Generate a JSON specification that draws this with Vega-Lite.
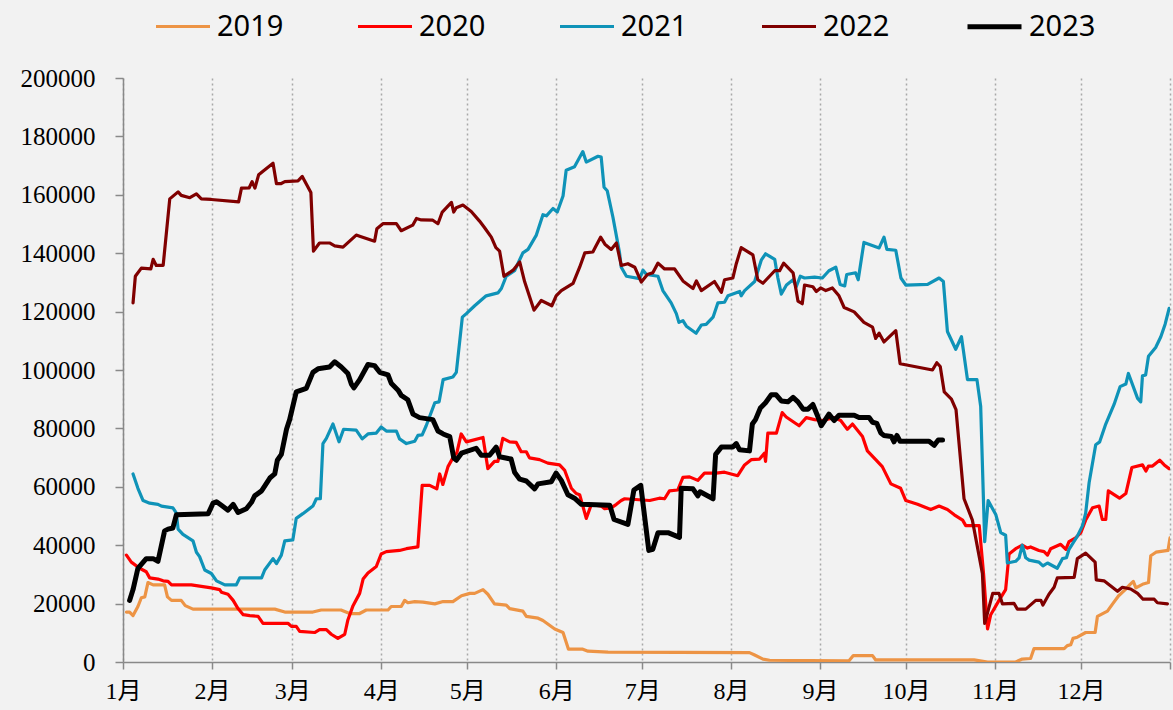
{
"$schema":"https://vega.github.io/schema/vega-lite/v6.json",
"width":1047,"height":584,
"autosize":{"type":"none"},
"padding":{"left":123,"top":78,"right":3,"bottom":48},
"background":"#f2f2f2",
"config":{"view":{"stroke":null},
"legend":{"orient":"none","legendX":31,"legendY":-81,"direction":"horizontal","symbolType":"stroke","symbolSize":2916,"labelFont":"Noto Sans","labelFontSize":29,"labelColor":"#000000","labelOffset":5,"columnPadding":67,"padding":0,"title":null,"symbolOpacity":1}},
"datasets":{"d":[
{"year":"2019","day":1.2,"value":17100},{"year":"2019","day":2.3,"value":17100},{"year":"2019","day":3.5,"value":15900},{"year":"2019","day":5.2,"value":19000},{"year":"2019","day":6.4,"value":22000},{"year":"2019","day":7.6,"value":22300},{"year":"2019","day":8.7,"value":27200},{"year":"2019","day":10.5,"value":26400},{"year":"2019","day":14.5,"value":26400},{"year":"2019","day":15.5,"value":22300},{"year":"2019","day":16.9,"value":21100},{"year":"2019","day":20.3,"value":21100},{"year":"2019","day":21.7,"value":19300},{"year":"2019","day":24.4,"value":18100},{"year":"2019","day":32,"value":18100},{"year":"2019","day":52.9,"value":18100},{"year":"2019","day":56.4,"value":17100},{"year":"2019","day":66.2,"value":17100},{"year":"2019","day":69.1,"value":17800},{"year":"2019","day":76,"value":17800},{"year":"2019","day":79,"value":16600},{"year":"2019","day":82.5,"value":16600},{"year":"2019","day":84.8,"value":17800},{"year":"2019","day":92.4,"value":17800},{"year":"2019","day":93.5,"value":19000},{"year":"2019","day":97,"value":19000},{"year":"2019","day":98.2,"value":21100},{"year":"2019","day":99.3,"value":20300},{"year":"2019","day":101.7,"value":20700},{"year":"2019","day":104.6,"value":20500},{"year":"2019","day":108.7,"value":19900},{"year":"2019","day":111.6,"value":20700},{"year":"2019","day":115,"value":20700},{"year":"2019","day":118,"value":22700},{"year":"2019","day":120.9,"value":23500},{"year":"2019","day":122.6,"value":23500},{"year":"2019","day":125.5,"value":24800},{"year":"2019","day":127.2,"value":23200},{"year":"2019","day":129.5,"value":19900},{"year":"2019","day":133.6,"value":19500},{"year":"2019","day":134.8,"value":18300},{"year":"2019","day":139.4,"value":17400},{"year":"2019","day":140.6,"value":15600},{"year":"2019","day":144.7,"value":15000},{"year":"2019","day":146.4,"value":14200},{"year":"2019","day":148.7,"value":12600},{"year":"2019","day":150.5,"value":11300},{"year":"2019","day":153.4,"value":10100},{"year":"2019","day":155.3,"value":4400},{"year":"2019","day":160.3,"value":4400},{"year":"2019","day":162.1,"value":3700},{"year":"2019","day":169.1,"value":3400},{"year":"2019","day":218.4,"value":3200},{"year":"2019","day":220.2,"value":2400},{"year":"2019","day":223.1,"value":1000},{"year":"2019","day":225.4,"value":600},{"year":"2019","day":253.1,"value":400},{"year":"2019","day":254.6,"value":2200},{"year":"2019","day":261.3,"value":2200},{"year":"2019","day":262.4,"value":700},{"year":"2019","day":296.7,"value":700},{"year":"2019","day":301.4,"value":0},{"year":"2019","day":311.2,"value":0},{"year":"2019","day":313.5,"value":1000},{"year":"2019","day":316.4,"value":1200},{"year":"2019","day":317.6,"value":4600},{"year":"2019","day":328.1,"value":4600},{"year":"2019","day":329.2,"value":5600},{"year":"2019","day":330.4,"value":5900},{"year":"2019","day":331.2,"value":8100},{"year":"2019","day":332.7,"value":8500},{"year":"2019","day":335.6,"value":10100},{"year":"2019","day":338.9,"value":10100},{"year":"2019","day":339.7,"value":15600},{"year":"2019","day":343.2,"value":17400},{"year":"2019","day":345,"value":19900},{"year":"2019","day":347.1,"value":22700},{"year":"2019","day":349.4,"value":24800},{"year":"2019","day":351.1,"value":26600},{"year":"2019","day":352.2,"value":27600},{"year":"2019","day":353.1,"value":25400},{"year":"2019","day":355.4,"value":26600},{"year":"2019","day":357.5,"value":27200},{"year":"2019","day":358.3,"value":36400},{"year":"2019","day":360.1,"value":37600},{"year":"2019","day":364.3,"value":38200},{"year":"2019","day":365,"value":42500},
{"year":"2020","day":1.2,"value":36600},{"year":"2020","day":2.9,"value":34200},{"year":"2020","day":5.8,"value":32100},{"year":"2020","day":8.1,"value":30900},{"year":"2020","day":9.3,"value":28800},{"year":"2020","day":12.2,"value":28400},{"year":"2020","day":14,"value":27800},{"year":"2020","day":15.7,"value":27600},{"year":"2020","day":16.9,"value":26400},{"year":"2020","day":23.8,"value":26400},{"year":"2020","day":30.8,"value":25400},{"year":"2020","day":33.7,"value":24800},{"year":"2020","day":34.3,"value":23900},{"year":"2020","day":36.6,"value":23200},{"year":"2020","day":38.4,"value":21100},{"year":"2020","day":40.1,"value":18300},{"year":"2020","day":41.9,"value":16200},{"year":"2020","day":44.2,"value":15900},{"year":"2020","day":47.1,"value":15600},{"year":"2020","day":48.8,"value":13200},{"year":"2020","day":57.6,"value":13200},{"year":"2020","day":58.7,"value":12200},{"year":"2020","day":60.4,"value":12200},{"year":"2020","day":61.6,"value":10500},{"year":"2020","day":66.8,"value":10100},{"year":"2020","day":68.5,"value":11100},{"year":"2020","day":70.9,"value":11100},{"year":"2020","day":72.6,"value":9500},{"year":"2020","day":74.9,"value":8100},{"year":"2020","day":77.3,"value":9500},{"year":"2020","day":78.4,"value":14400},{"year":"2020","day":80.2,"value":19300},{"year":"2020","day":82.5,"value":23500},{"year":"2020","day":83.7,"value":28400},{"year":"2020","day":85.4,"value":30500},{"year":"2020","day":88.3,"value":32700},{"year":"2020","day":90,"value":37000},{"year":"2020","day":91.8,"value":37800},{"year":"2020","day":96.4,"value":38200},{"year":"2020","day":98.8,"value":38800},{"year":"2020","day":102.8,"value":39400},{"year":"2020","day":104.3,"value":60500},{"year":"2020","day":106.9,"value":60500},{"year":"2020","day":109.4,"value":59300},{"year":"2020","day":110.4,"value":64400},{"year":"2020","day":111.5,"value":60800},{"year":"2020","day":113.3,"value":66900},{"year":"2020","day":115,"value":69900},{"year":"2020","day":116.4,"value":71700},{"year":"2020","day":117.9,"value":78100},{"year":"2020","day":119.7,"value":75400},{"year":"2020","day":125.5,"value":76900},{"year":"2020","day":127.2,"value":66200},{"year":"2020","day":129.5,"value":68700},{"year":"2020","day":130.7,"value":68700},{"year":"2020","day":132.4,"value":76600},{"year":"2020","day":134.8,"value":75400},{"year":"2020","day":137.1,"value":75200},{"year":"2020","day":138.8,"value":72000},{"year":"2020","day":140.6,"value":72000},{"year":"2020","day":141.7,"value":69900},{"year":"2020","day":145.2,"value":69300},{"year":"2020","day":148.1,"value":68100},{"year":"2020","day":152.2,"value":67500},{"year":"2020","day":154,"value":65600},{"year":"2020","day":156.3,"value":59500},{"year":"2020","day":158,"value":57700},{"year":"2020","day":159.2,"value":57300},{"year":"2020","day":161.5,"value":49200},{"year":"2020","day":163.3,"value":54000},{"year":"2020","day":166.7,"value":53400},{"year":"2020","day":167.9,"value":52500},{"year":"2020","day":170.2,"value":52800},{"year":"2020","day":172,"value":54000},{"year":"2020","day":173.7,"value":55300},{"year":"2020","day":174.9,"value":55900},{"year":"2020","day":183.6,"value":55300},{"year":"2020","day":187,"value":56100},{"year":"2020","day":188.8,"value":55900},{"year":"2020","day":190.5,"value":58600},{"year":"2020","day":193.4,"value":58900},{"year":"2020","day":195.2,"value":63200},{"year":"2020","day":197.5,"value":63400},{"year":"2020","day":200.4,"value":62200},{"year":"2020","day":202.7,"value":64700},{"year":"2020","day":206.8,"value":64700},{"year":"2020","day":209.7,"value":65000},{"year":"2020","day":214.3,"value":63800},{"year":"2020","day":216.7,"value":67500},{"year":"2020","day":219,"value":69300},{"year":"2020","day":221.9,"value":69500},{"year":"2020","day":223.6,"value":71500},{"year":"2020","day":224,"value":68700},{"year":"2020","day":224.8,"value":78400},{"year":"2020","day":227.8,"value":78400},{"year":"2020","day":229.8,"value":85400},{"year":"2020","day":231.2,"value":83900},{"year":"2020","day":235.7,"value":80900},{"year":"2020","day":238.2,"value":83700},{"year":"2020","day":241.1,"value":83000},{"year":"2020","day":243.8,"value":82700},{"year":"2020","day":247.9,"value":83700},{"year":"2020","day":250.2,"value":82700},{"year":"2020","day":252.5,"value":79700},{"year":"2020","day":254.3,"value":81500},{"year":"2020","day":257.8,"value":77200},{"year":"2020","day":259.5,"value":72300},{"year":"2020","day":262.4,"value":69300},{"year":"2020","day":264.7,"value":66900},{"year":"2020","day":267.7,"value":61000},{"year":"2020","day":271.1,"value":59500},{"year":"2020","day":272.9,"value":55300},{"year":"2020","day":277,"value":54000},{"year":"2020","day":281.6,"value":52200},{"year":"2020","day":284.5,"value":53400},{"year":"2020","day":287.4,"value":52200},{"year":"2020","day":289.8,"value":50400},{"year":"2020","day":292.7,"value":48600},{"year":"2020","day":293.8,"value":46700},{"year":"2020","day":298.5,"value":46700},{"year":"2020","day":300,"value":30300},{"year":"2020","day":301.4,"value":11300},{"year":"2020","day":302.5,"value":16200},{"year":"2020","day":305.4,"value":21100},{"year":"2020","day":307.7,"value":24800},{"year":"2020","day":308.9,"value":37000},{"year":"2020","day":311.2,"value":38800},{"year":"2020","day":313.5,"value":40000},{"year":"2020","day":315.3,"value":39000},{"year":"2020","day":316.4,"value":39400},{"year":"2020","day":319.3,"value":38200},{"year":"2020","day":321.1,"value":37800},{"year":"2020","day":322.3,"value":36600},{"year":"2020","day":323.4,"value":38800},{"year":"2020","day":326.9,"value":40300},{"year":"2020","day":328.7,"value":38600},{"year":"2020","day":329.8,"value":41200},{"year":"2020","day":332.1,"value":42500},{"year":"2020","day":333.9,"value":44300},{"year":"2020","day":335.6,"value":48600},{"year":"2020","day":338,"value":52800},{"year":"2020","day":340.3,"value":53400},{"year":"2020","day":341.4,"value":48800},{"year":"2020","day":342.6,"value":48800},{"year":"2020","day":343.5,"value":58600},{"year":"2020","day":345.5,"value":57300},{"year":"2020","day":347.4,"value":56100},{"year":"2020","day":349.6,"value":57700},{"year":"2020","day":351.7,"value":66600},{"year":"2020","day":355.4,"value":67500},{"year":"2020","day":356.6,"value":65400},{"year":"2020","day":357.5,"value":67100},{"year":"2020","day":358.9,"value":67100},{"year":"2020","day":361.4,"value":69100},{"year":"2020","day":363,"value":67500},{"year":"2020","day":364.7,"value":66200},
{"year":"2021","day":3.5,"value":64400},{"year":"2021","day":5.2,"value":59500},{"year":"2021","day":7,"value":55300},{"year":"2021","day":9.3,"value":54400},{"year":"2021","day":12.2,"value":54000},{"year":"2021","day":13.4,"value":53400},{"year":"2021","day":17.4,"value":52800},{"year":"2021","day":18.6,"value":51000},{"year":"2021","day":19.2,"value":45500},{"year":"2021","day":20.9,"value":43700},{"year":"2021","day":24.4,"value":41500},{"year":"2021","day":25.6,"value":37600},{"year":"2021","day":26.7,"value":36100},{"year":"2021","day":28.5,"value":31500},{"year":"2021","day":30.8,"value":30300},{"year":"2021","day":32.6,"value":27800},{"year":"2021","day":35.5,"value":26400},{"year":"2021","day":39.5,"value":26400},{"year":"2021","day":40.7,"value":28800},{"year":"2021","day":48.3,"value":28800},{"year":"2021","day":49.4,"value":31500},{"year":"2021","day":52.3,"value":35400},{"year":"2021","day":53.5,"value":33700},{"year":"2021","day":55.2,"value":36600},{"year":"2021","day":56.4,"value":41500},{"year":"2021","day":59.2,"value":41800},{"year":"2021","day":60.4,"value":49200},{"year":"2021","day":62.7,"value":50800},{"year":"2021","day":66.2,"value":53400},{"year":"2021","day":67.4,"value":55900},{"year":"2021","day":68.8,"value":55900},{"year":"2021","day":69.7,"value":74800},{"year":"2021","day":70.9,"value":76600},{"year":"2021","day":73.2,"value":81500},{"year":"2021","day":75.3,"value":75400},{"year":"2021","day":76.9,"value":79700},{"year":"2021","day":81.3,"value":79400},{"year":"2021","day":83.4,"value":76400},{"year":"2021","day":85.4,"value":78100},{"year":"2021","day":88.3,"value":78400},{"year":"2021","day":90,"value":80500},{"year":"2021","day":91.8,"value":79100},{"year":"2021","day":95.3,"value":79100},{"year":"2021","day":96.4,"value":76400},{"year":"2021","day":98.8,"value":74800},{"year":"2021","day":101.7,"value":75600},{"year":"2021","day":102.8,"value":77600},{"year":"2021","day":104.3,"value":77800},{"year":"2021","day":105.7,"value":80900},{"year":"2021","day":108.7,"value":88800},{"year":"2021","day":110.2,"value":89100},{"year":"2021","day":111.6,"value":96700},{"year":"2021","day":115,"value":97600},{"year":"2021","day":116.2,"value":99200},{"year":"2021","day":118.3,"value":118100},{"year":"2021","day":119.7,"value":119300},{"year":"2021","day":122.6,"value":122000},{"year":"2021","day":126.6,"value":125400},{"year":"2021","day":130.7,"value":126400},{"year":"2021","day":131.9,"value":127900},{"year":"2021","day":133.6,"value":132100},{"year":"2021","day":136.5,"value":134000},{"year":"2021","day":139.4,"value":140100},{"year":"2021","day":141.2,"value":141300},{"year":"2021","day":144.1,"value":146200},{"year":"2021","day":146.4,"value":153200},{"year":"2021","day":147.6,"value":152800},{"year":"2021","day":149.9,"value":155300},{"year":"2021","day":151.4,"value":154100},{"year":"2021","day":153.4,"value":159600},{"year":"2021","day":154.5,"value":168400},{"year":"2021","day":157.4,"value":169600},{"year":"2021","day":160.3,"value":174800},{"year":"2021","day":161.5,"value":171200},{"year":"2021","day":165.6,"value":173200},{"year":"2021","day":166.7,"value":172900},{"year":"2021","day":167.7,"value":162600},{"year":"2021","day":168.8,"value":161400},{"year":"2021","day":170.8,"value":152300},{"year":"2021","day":173.1,"value":140100},{"year":"2021","day":173.7,"value":135200},{"year":"2021","day":175.5,"value":132100},{"year":"2021","day":180.1,"value":131300},{"year":"2021","day":181.3,"value":134200},{"year":"2021","day":182.5,"value":132700},{"year":"2021","day":186.5,"value":132100},{"year":"2021","day":188.2,"value":127200},{"year":"2021","day":191.1,"value":123000},{"year":"2021","day":192.9,"value":119300},{"year":"2021","day":193.8,"value":116300},{"year":"2021","day":195.2,"value":116900},{"year":"2021","day":196.4,"value":115000},{"year":"2021","day":199.8,"value":112600},{"year":"2021","day":201.6,"value":115400},{"year":"2021","day":203.3,"value":115600},{"year":"2021","day":205.7,"value":118100},{"year":"2021","day":207.4,"value":123000},{"year":"2021","day":209.7,"value":123200},{"year":"2021","day":210.9,"value":125400},{"year":"2021","day":215,"value":126900},{"year":"2021","day":215.5,"value":125400},{"year":"2021","day":216.7,"value":127200},{"year":"2021","day":220.2,"value":130300},{"year":"2021","day":222.5,"value":137600},{"year":"2021","day":224,"value":139800},{"year":"2021","day":227.2,"value":137900},{"year":"2021","day":228.3,"value":131500},{"year":"2021","day":229.5,"value":126000},{"year":"2021","day":231.3,"value":129100},{"year":"2021","day":233.6,"value":130900},{"year":"2021","day":234.7,"value":128500},{"year":"2021","day":236.1,"value":132100},{"year":"2021","day":237.6,"value":131500},{"year":"2021","day":241.1,"value":131800},{"year":"2021","day":243.8,"value":131500},{"year":"2021","day":246.1,"value":134000},{"year":"2021","day":248.5,"value":135200},{"year":"2021","day":250,"value":129300},{"year":"2021","day":251.6,"value":128800},{"year":"2021","day":252.3,"value":132700},{"year":"2021","day":255.4,"value":133300},{"year":"2021","day":256.3,"value":130900},{"year":"2021","day":258.3,"value":143700},{"year":"2021","day":263.6,"value":141800},{"year":"2021","day":265.3,"value":145500},{"year":"2021","day":266.3,"value":141300},{"year":"2021","day":269.4,"value":141000},{"year":"2021","day":271.2,"value":131500},{"year":"2021","day":272.9,"value":129100},{"year":"2021","day":280.5,"value":129300},{"year":"2021","day":284.5,"value":131500},{"year":"2021","day":286,"value":130300},{"year":"2021","day":287.4,"value":113200},{"year":"2021","day":290.3,"value":107100},{"year":"2021","day":292.3,"value":111400},{"year":"2021","day":294.4,"value":96700},{"year":"2021","day":297.7,"value":96700},{"year":"2021","day":299,"value":87600},{"year":"2021","day":300.4,"value":41200},{"year":"2021","day":301.6,"value":55300},{"year":"2021","day":304.3,"value":50400},{"year":"2021","day":306,"value":44300},{"year":"2021","day":307.7,"value":43400},{"year":"2021","day":308.3,"value":33900},{"year":"2021","day":311.2,"value":34500},{"year":"2021","day":312.4,"value":35700},{"year":"2021","day":313.5,"value":40000},{"year":"2021","day":314.7,"value":35700},{"year":"2021","day":315.9,"value":34900},{"year":"2021","day":319.3,"value":34200},{"year":"2021","day":320.7,"value":32900},{"year":"2021","day":322.3,"value":33900},{"year":"2021","day":325.7,"value":32100},{"year":"2021","day":327.5,"value":35400},{"year":"2021","day":328.9,"value":35700},{"year":"2021","day":329.8,"value":38600},{"year":"2021","day":332.7,"value":43100},{"year":"2021","day":334.5,"value":46700},{"year":"2021","day":335.6,"value":51000},{"year":"2021","day":336.8,"value":61400},{"year":"2021","day":339.1,"value":74400},{"year":"2021","day":340.5,"value":75400},{"year":"2021","day":342.6,"value":81500},{"year":"2021","day":345.5,"value":88200},{"year":"2021","day":347.6,"value":94300},{"year":"2021","day":349.6,"value":95200},{"year":"2021","day":350.5,"value":98800},{"year":"2021","day":353.7,"value":90300},{"year":"2021","day":354.8,"value":89100},{"year":"2021","day":355.4,"value":98000},{"year":"2021","day":356.5,"value":98300},{"year":"2021","day":357.5,"value":104700},{"year":"2021","day":360,"value":107700},{"year":"2021","day":361.8,"value":111400},{"year":"2021","day":363.3,"value":115700},{"year":"2021","day":364.7,"value":121100},
{"year":"2022","day":3.5,"value":123000},{"year":"2022","day":4.3,"value":132100},{"year":"2022","day":6.4,"value":134900},{"year":"2022","day":9.7,"value":134600},{"year":"2022","day":10.5,"value":137900},{"year":"2022","day":11.6,"value":135800},{"year":"2022","day":14,"value":135800},{"year":"2022","day":16.3,"value":158600},{"year":"2022","day":19.2,"value":161000},{"year":"2022","day":20.3,"value":159800},{"year":"2022","day":23.3,"value":159000},{"year":"2022","day":25.6,"value":160300},{"year":"2022","day":27.3,"value":158600},{"year":"2022","day":30.8,"value":158400},{"year":"2022","day":40.3,"value":157600},{"year":"2022","day":41.3,"value":162300},{"year":"2022","day":44,"value":162400},{"year":"2022","day":45,"value":164500},{"year":"2022","day":46,"value":162300},{"year":"2022","day":47.3,"value":166900},{"year":"2022","day":48.8,"value":168100},{"year":"2022","day":52.3,"value":170800},{"year":"2022","day":53.5,"value":163800},{"year":"2022","day":55,"value":163800},{"year":"2022","day":56.4,"value":164500},{"year":"2022","day":61,"value":164800},{"year":"2022","day":62.5,"value":166300},{"year":"2022","day":65.5,"value":160800},{"year":"2022","day":66.4,"value":140700},{"year":"2022","day":68.5,"value":143500},{"year":"2022","day":72,"value":143500},{"year":"2022","day":73.8,"value":142500},{"year":"2022","day":76.7,"value":142100},{"year":"2022","day":81.3,"value":146200},{"year":"2022","day":82.5,"value":145800},{"year":"2022","day":87.7,"value":144100},{"year":"2022","day":88.5,"value":148400},{"year":"2022","day":90.6,"value":150100},{"year":"2022","day":95.3,"value":150100},{"year":"2022","day":97,"value":147700},{"year":"2022","day":101,"value":149600},{"year":"2022","day":102.3,"value":151900},{"year":"2022","day":104,"value":151400},{"year":"2022","day":108,"value":151300},{"year":"2022","day":109.8,"value":150100},{"year":"2022","day":111.3,"value":154100},{"year":"2022","day":114.5,"value":157400},{"year":"2022","day":115.3,"value":154100},{"year":"2022","day":116.2,"value":155600},{"year":"2022","day":118.5,"value":156500},{"year":"2022","day":121.4,"value":154300},{"year":"2022","day":124.3,"value":151000},{"year":"2022","day":126,"value":148800},{"year":"2022","day":128.4,"value":145500},{"year":"2022","day":130,"value":141900},{"year":"2022","day":131.3,"value":140700},{"year":"2022","day":132.8,"value":132100},{"year":"2022","day":136,"value":134200},{"year":"2022","day":138.3,"value":137000},{"year":"2022","day":140,"value":130300},{"year":"2022","day":143.3,"value":120500},{"year":"2022","day":145.8,"value":123800},{"year":"2022","day":149.5,"value":122000},{"year":"2022","day":151,"value":125400},{"year":"2022","day":152.8,"value":127200},{"year":"2022","day":156.9,"value":129700},{"year":"2022","day":159.2,"value":135200},{"year":"2022","day":161,"value":140100},{"year":"2022","day":163.8,"value":140400},{"year":"2022","day":164.7,"value":142100},{"year":"2022","day":166.5,"value":145500},{"year":"2022","day":168,"value":143100},{"year":"2022","day":170.2,"value":141300},{"year":"2022","day":172,"value":143500},{"year":"2022","day":173.7,"value":135800},{"year":"2022","day":176,"value":136400},{"year":"2022","day":178.4,"value":135200},{"year":"2022","day":180.7,"value":130100},{"year":"2022","day":182.8,"value":132700},{"year":"2022","day":184.7,"value":133300},{"year":"2022","day":186.5,"value":136600},{"year":"2022","day":188.8,"value":134600},{"year":"2022","day":192.3,"value":134600},{"year":"2022","day":195.2,"value":130500},{"year":"2022","day":198.7,"value":127900},{"year":"2022","day":199.9,"value":130500},{"year":"2022","day":201.6,"value":127200},{"year":"2022","day":206.2,"value":130300},{"year":"2022","day":208.6,"value":126600},{"year":"2022","day":209.7,"value":130900},{"year":"2022","day":212.6,"value":131500},{"year":"2022","day":213.8,"value":136400},{"year":"2022","day":215.5,"value":141900},{"year":"2022","day":219.6,"value":139400},{"year":"2022","day":221.3,"value":130900},{"year":"2022","day":223.1,"value":129700},{"year":"2022","day":227.2,"value":134000},{"year":"2022","day":228.9,"value":134000},{"year":"2022","day":230.3,"value":136600},{"year":"2022","day":233.6,"value":133300},{"year":"2022","day":235.3,"value":123600},{"year":"2022","day":236.8,"value":122700},{"year":"2022","day":237.6,"value":129100},{"year":"2022","day":240.5,"value":128500},{"year":"2022","day":241.7,"value":126900},{"year":"2022","day":243.2,"value":128100},{"year":"2022","day":245,"value":127200},{"year":"2022","day":247.3,"value":128100},{"year":"2022","day":249.6,"value":125400},{"year":"2022","day":251.4,"value":121400},{"year":"2022","day":254.9,"value":119900},{"year":"2022","day":258.3,"value":116300},{"year":"2022","day":261.3,"value":114700},{"year":"2022","day":262.4,"value":110800},{"year":"2022","day":263.6,"value":112600},{"year":"2022","day":265.3,"value":109600},{"year":"2022","day":269.4,"value":113500},{"year":"2022","day":270.9,"value":102200},{"year":"2022","day":272.3,"value":101900},{"year":"2022","day":282.2,"value":100000},{"year":"2022","day":283.7,"value":102500},{"year":"2022","day":284.9,"value":101200},{"year":"2022","day":286.3,"value":92500},{"year":"2022","day":288.8,"value":90000},{"year":"2022","day":290.4,"value":86400},{"year":"2022","day":293.2,"value":55900},{"year":"2022","day":296.1,"value":48600},{"year":"2022","day":299.6,"value":30300},{"year":"2022","day":300.4,"value":13200},{"year":"2022","day":303.2,"value":23500},{"year":"2022","day":305.4,"value":23500},{"year":"2022","day":306.6,"value":19900},{"year":"2022","day":310.6,"value":20100},{"year":"2022","day":311.8,"value":18100},{"year":"2022","day":314.7,"value":18100},{"year":"2022","day":318.2,"value":21100},{"year":"2022","day":320,"value":21100},{"year":"2022","day":320.7,"value":19500},{"year":"2022","day":322.8,"value":23200},{"year":"2022","day":324.6,"value":25600},{"year":"2022","day":325.7,"value":28800},{"year":"2022","day":331.6,"value":29000},{"year":"2022","day":332.7,"value":35400},{"year":"2022","day":335.6,"value":37300},{"year":"2022","day":338.9,"value":34200},{"year":"2022","day":339.3,"value":28100},{"year":"2022","day":342,"value":27800},{"year":"2022","day":346.7,"value":24200},{"year":"2022","day":348.4,"value":25600},{"year":"2022","day":351.3,"value":25000},{"year":"2022","day":353.7,"value":23500},{"year":"2022","day":355.6,"value":21500},{"year":"2022","day":359.5,"value":21500},{"year":"2022","day":360.6,"value":20300},{"year":"2022","day":364.1,"value":19900},
{"year":"2023","day":2.3,"value":21100},{"year":"2023","day":3.5,"value":24800},{"year":"2023","day":5.2,"value":32100},{"year":"2023","day":8.1,"value":35400},{"year":"2023","day":10.5,"value":35400},{"year":"2023","day":12.2,"value":34500},{"year":"2023","day":14.5,"value":44900},{"year":"2023","day":15.7,"value":45500},{"year":"2023","day":17.4,"value":45900},{"year":"2023","day":18.6,"value":50400},{"year":"2023","day":29.7,"value":50800},{"year":"2023","day":31.4,"value":54400},{"year":"2023","day":32.6,"value":54900},{"year":"2023","day":34.3,"value":53700},{"year":"2023","day":36.6,"value":52000},{"year":"2023","day":38.4,"value":54000},{"year":"2023","day":40.1,"value":51200},{"year":"2023","day":43,"value":52500},{"year":"2023","day":44.8,"value":54700},{"year":"2023","day":45.9,"value":56900},{"year":"2023","day":48.3,"value":58600},{"year":"2023","day":51.2,"value":63000},{"year":"2023","day":52.9,"value":64400},{"year":"2023","day":53.8,"value":69100},{"year":"2023","day":55.2,"value":71100},{"year":"2023","day":57,"value":79700},{"year":"2023","day":58.1,"value":83000},{"year":"2023","day":60.4,"value":92500},{"year":"2023","day":63.9,"value":93700},{"year":"2023","day":66.2,"value":99200},{"year":"2023","day":68,"value":100400},{"year":"2023","day":72,"value":101000},{"year":"2023","day":73.8,"value":102800},{"year":"2023","day":76.1,"value":101000},{"year":"2023","day":78.4,"value":98800},{"year":"2023","day":79.6,"value":95200},{"year":"2023","day":80.5,"value":93900},{"year":"2023","day":82.5,"value":96700},{"year":"2023","day":85.4,"value":101900},{"year":"2023","day":87.7,"value":101500},{"year":"2023","day":89.5,"value":99200},{"year":"2023","day":92.4,"value":98300},{"year":"2023","day":93.5,"value":95500},{"year":"2023","day":95.9,"value":93100},{"year":"2023","day":97,"value":91300},{"year":"2023","day":99.3,"value":89800},{"year":"2023","day":101.1,"value":84900},{"year":"2023","day":103.4,"value":83700},{"year":"2023","day":108,"value":83000},{"year":"2023","day":109.8,"value":79100},{"year":"2023","day":111.6,"value":78100},{"year":"2023","day":113.9,"value":77200},{"year":"2023","day":115.3,"value":69900},{"year":"2023","day":116.2,"value":69100},{"year":"2023","day":118,"value":71500},{"year":"2023","day":123.1,"value":73200},{"year":"2023","day":124.9,"value":70800},{"year":"2023","day":127.8,"value":70800},{"year":"2023","day":130.1,"value":73600},{"year":"2023","day":131.3,"value":70300},{"year":"2023","day":135.3,"value":69500},{"year":"2023","day":136.5,"value":65000},{"year":"2023","day":138.3,"value":62600},{"year":"2023","day":140.6,"value":62000},{"year":"2023","day":143.5,"value":59300},{"year":"2023","day":144.7,"value":61000},{"year":"2023","day":149.3,"value":61700},{"year":"2023","day":151,"value":64700},{"year":"2023","day":152.8,"value":62200},{"year":"2023","day":155.1,"value":57300},{"year":"2023","day":157.4,"value":56100},{"year":"2023","day":159.8,"value":54000},{"year":"2023","day":169.7,"value":53700},{"year":"2023","day":171.2,"value":48800},{"year":"2023","day":176,"value":47100},{"year":"2023","day":178.1,"value":58900},{"year":"2023","day":180.5,"value":60500},{"year":"2023","day":183.3,"value":38200},{"year":"2023","day":184.7,"value":38600},{"year":"2023","day":186.5,"value":44300},{"year":"2023","day":190,"value":44300},{"year":"2023","day":194,"value":42700},{"year":"2023","day":194.6,"value":59500},{"year":"2023","day":198.7,"value":59300},{"year":"2023","day":200.4,"value":56900},{"year":"2023","day":201.2,"value":58300},{"year":"2023","day":205.7,"value":55900},{"year":"2023","day":206.6,"value":71100},{"year":"2023","day":208.6,"value":73600},{"year":"2023","day":212.6,"value":73600},{"year":"2023","day":213.8,"value":74800},{"year":"2023","day":214.9,"value":72700},{"year":"2023","day":218.4,"value":72300},{"year":"2023","day":219.4,"value":81500},{"year":"2023","day":220.5,"value":83000},{"year":"2023","day":222.2,"value":87000},{"year":"2023","day":224,"value":88800},{"year":"2023","day":226,"value":91500},{"year":"2023","day":227.7,"value":91500},{"year":"2023","day":229.5,"value":89400},{"year":"2023","day":231.8,"value":89100},{"year":"2023","day":233.6,"value":90600},{"year":"2023","day":235.3,"value":89100},{"year":"2023","day":237.1,"value":86600},{"year":"2023","day":238.8,"value":86600},{"year":"2023","day":240.5,"value":88200},{"year":"2023","day":242.3,"value":83900},{"year":"2023","day":243.4,"value":80900},{"year":"2023","day":246.1,"value":84900},{"year":"2023","day":247.9,"value":82700},{"year":"2023","day":249.6,"value":84500},{"year":"2023","day":254.9,"value":84500},{"year":"2023","day":256.6,"value":83700},{"year":"2023","day":260.1,"value":83700},{"year":"2023","day":261.3,"value":82100},{"year":"2023","day":262.8,"value":81700},{"year":"2023","day":264.2,"value":78400},{"year":"2023","day":265.3,"value":77600},{"year":"2023","day":267.9,"value":77200},{"year":"2023","day":268.8,"value":75400},{"year":"2023","day":269.8,"value":77600},{"year":"2023","day":270.9,"value":75600},{"year":"2023","day":281,"value":75600},{"year":"2023","day":282.8,"value":74200},{"year":"2023","day":284.2,"value":76000},{"year":"2023","day":285.7,"value":76000}
]},
"data":{"name":"d"},
"mark":{"type":"line","strokeJoin":"round","strokeCap":"round","clip":true},
"encoding":{
"x":{"field":"day","type":"quantitative","scale":{"domain":[0,365],"nice":false,"zero":false},
"axis":{"title":null,"values":[0,31,59,90,120,151,181,212,243,273,304,334,365],"labelExpr":"datum.value == 365 ? '' : (indexof([0,31,59,90,120,151,181,212,243,273,304,334], datum.value) + 1) + '月'","labelFont":"Liberation Serif, Noto Sans CJK SC","labelFontSize":24,"labelColor":"#000000","labelPadding":10,"labelFlush":false,"labelOverlap":false,"tickSize":7,"tickColor":"#898989","tickWidth":1.5,"domainColor":"#898989","domainWidth":1.5,"grid":true,"gridColor":"#a8a8a8","gridDash":[2,3],"gridWidth":1.5}},
"y":{"field":"value","type":"quantitative","scale":{"domain":[0,200000],"nice":false},
"axis":{"title":null,"values":[0,20000,40000,60000,80000,100000,120000,140000,160000,180000,200000],"format":"d","labelFont":"Liberation Serif","labelFontSize":25,"labelColor":"#000000","labelPadding":20,"labelFlush":false,"tickSize":8,"tickColor":"#898989","tickWidth":1.5,"domainColor":"#898989","domainWidth":1.5,"grid":false}},
"color":{"field":"year","type":"ordinal","scale":{"domain":["2019","2020","2021","2022","2023"],"range":["#ED9445","#FF0000","#0F93B8","#800000","#000000"]},"legend":{"title":null}},
"strokeWidth":{"field":"year","type":"ordinal","scale":{"type":"ordinal","domain":["2019","2020","2021","2022","2023"],"range":[3.2,3.2,3.2,3.2,5]},"legend":{"title":null}}
}
}
